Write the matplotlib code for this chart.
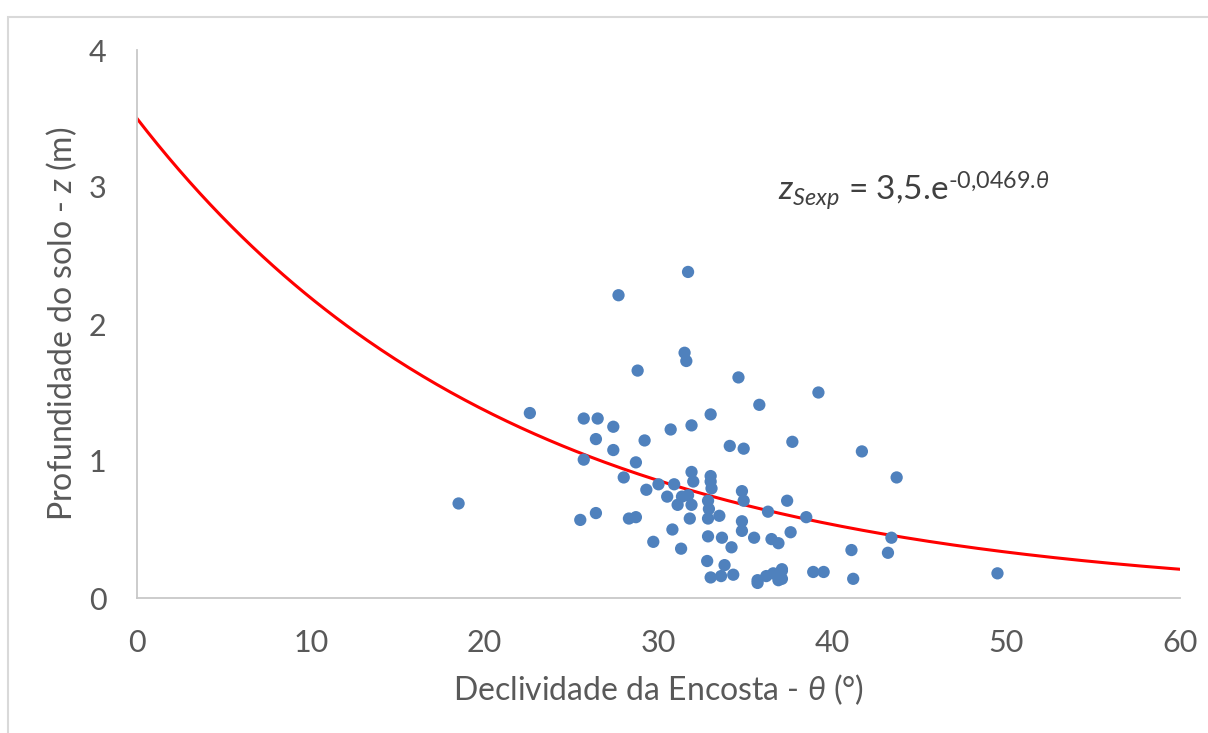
import numpy as np
import matplotlib
matplotlib.use("Agg")
import matplotlib.pyplot as plt
from matplotlib.patches import Rectangle

plt.rcParams['font.family'] = ['Lato', 'DejaVu Sans']
plt.rcParams['mathtext.fontset'] = 'custom'
plt.rcParams['mathtext.rm'] = 'Lato'
plt.rcParams['mathtext.it'] = 'Lato:italic'

# slope (degrees) and soil depth (m)
slope = [18.5, 22.6, 25.5, 25.7, 25.7, 26.5, 26.4, 26.4, 27.4, 27.4,
         27.7, 28.0, 28.3, 28.7, 28.7, 28.8, 29.2, 29.3, 29.7, 30.0,
         30.5, 30.7, 30.8, 30.9, 31.1, 31.3, 31.35, 31.5, 31.6, 31.7,
         31.7, 31.8, 31.9, 31.9, 31.9, 32.0, 32.8, 32.85, 32.85, 32.85,
         32.9, 33.0, 33.0, 33.0, 33.05, 33.0, 33.5, 33.6, 33.65, 33.8,
         34.1, 34.2, 34.3, 34.6, 34.8, 34.8, 34.8, 34.9, 34.9, 35.5,
         35.7, 35.7, 35.8, 36.3, 36.2, 36.5, 36.6, 36.9, 36.9, 37.1,
         37.1, 37.1, 37.4, 37.6, 37.7, 38.5, 38.9, 39.2, 39.5, 41.1,
         41.2, 41.7, 43.2, 43.4, 43.7, 49.5]
depth = [0.69, 1.35, 0.57, 1.31, 1.01, 1.31, 1.16, 0.62, 1.25, 1.08,
         2.21, 0.88, 0.58, 0.59, 0.99, 1.66, 1.15, 0.79, 0.41, 0.83,
         0.74, 1.23, 0.50, 0.83, 0.68, 0.36, 0.74, 1.79, 1.73, 2.38,
         0.75, 0.58, 0.92, 0.68, 1.26, 0.85, 0.27, 0.45, 0.71, 0.58,
         0.65, 0.15, 0.89, 0.85, 0.80, 1.34, 0.60, 0.16, 0.44, 0.24,
         1.11, 0.37, 0.17, 1.61, 0.56, 0.49, 0.78, 0.71, 1.09, 0.44,
         0.13, 0.11, 1.41, 0.63, 0.16, 0.43, 0.18, 0.40, 0.13, 0.20,
         0.14, 0.21, 0.71, 0.48, 1.14, 0.59, 0.19, 1.50, 0.19, 0.35,
         0.14, 1.07, 0.33, 0.44, 0.88, 0.18]

# fitted curve z = a * exp(b * theta)
fit_a = 3.5
fit_b = -0.0469

fig = plt.figure(figsize=(12.08, 7.33), dpi=100)
ax = fig.add_axes([137 / 1208, 1 - 598 / 733, (1180 - 137) / 1208, (598 - 50) / 733])

theta = np.linspace(0, 60, 300)
ax.plot(theta, fit_a * np.exp(fit_b * theta), color='#ff0000', lw=2.2, zorder=2)
ax.scatter(slope, depth, s=78, color='#4f81bd', edgecolors='none', zorder=3)

ax.set_xlim(0, 60)
ax.set_ylim(0, 4)
ax.set_xticks([0, 10, 20, 30, 40, 50, 60])
ax.set_yticks([0, 1, 2, 3, 4])

for side in ['top', 'right']:
    ax.spines[side].set_visible(False)
for side in ['left', 'bottom']:
    ax.spines[side].set_color('#c8c8c8')
    ax.spines[side].set_linewidth(1.3)

ax.tick_params(axis='both', length=0, labelsize=22, labelcolor='#595959')
ax.tick_params(axis='x', pad=22)
ax.tick_params(axis='y', pad=22)

ax.set_xlabel(r'Declividade da Encosta - $\theta$ (°)', fontsize=23, color='#595959', labelpad=11)
ax.set_ylabel(r'Profundidade do solo - $z$ (m)', fontsize=23, color='#595959', labelpad=7)

ax.text(36.9, 2.9, r'$z_{Sexp}$ = 3,5.e$^{\text{-0,0469.}\theta}$',
        fontsize=24, color='#404040', ha='left', va='baseline')

# chart-area frame like the spreadsheet export
fig.patches.append(Rectangle((8 / 1208, -0.1), 1.2, 1.1 - 17 / 733,
                             transform=fig.transFigure, fill=False,
                             edgecolor='#d9d9d9', lw=1.5))

fig.savefig('out.png', dpi=100)
